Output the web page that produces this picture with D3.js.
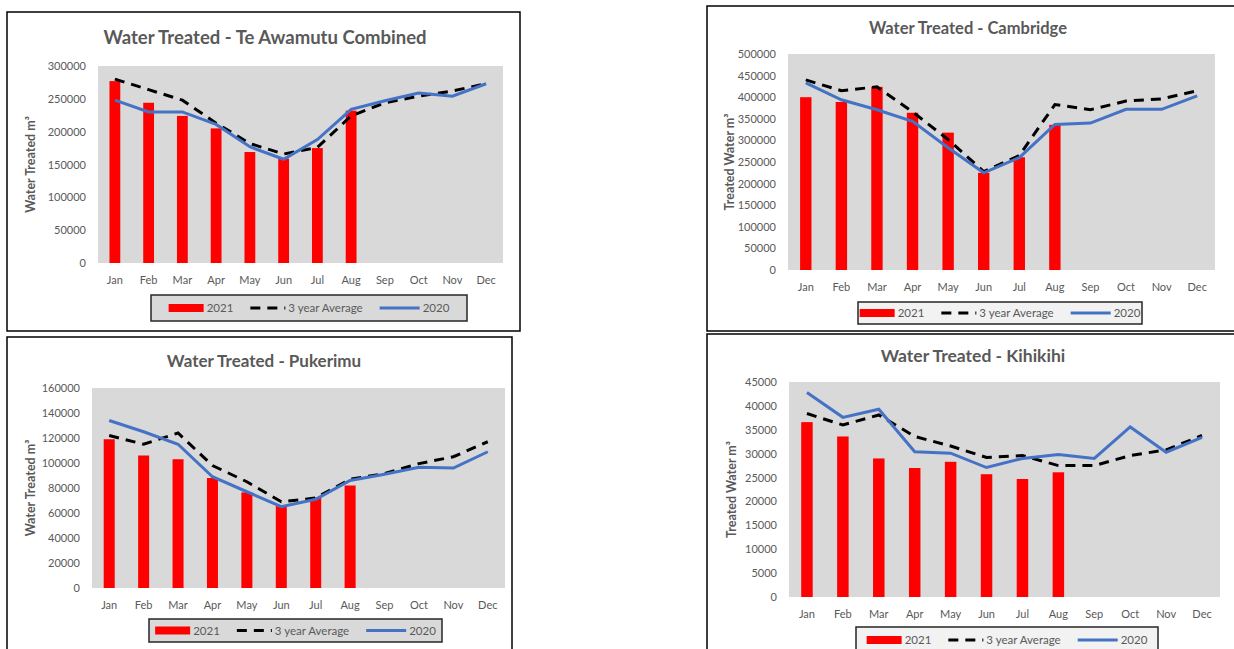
<!DOCTYPE html>
<html>
<head>
<meta charset="utf-8">
<script src="https://cdn.jsdelivr.net/npm/d3@7"></script>
<style>
  body { margin: 0; background: #fff; }
  text { font-family: Lato, "Open Sans", sans-serif; fill: #595959; }
  .title { font-weight: bold; }
  .axisTitle { font-weight: bold; }
</style>
</head>
<body>
<div id="chart"></div>
<script>
var months = ["Jan","Feb","Mar","Apr","May","Jun","Jul","Aug","Sep","Oct","Nov","Dec"];
var seriesNames = ["2021", "3 year Average", "2020"];

// Te Awamutu Combined
var teAwamutu2021 = [277000, 244000, 224000, 205000, 169000, 159000, 175000, 232000];
var teAwamutuAvg = [280000, 264000, 248000, 213000, 182000, 166000, 176000, 224000, 244000, 254000, 262000, 273000];
var teAwamutu2020 = [248000, 230000, 230000, 211000, 177000, 158000, 188000, 234000, 247000, 259000, 254000, 273000];
var teAwamutuTicks = [0, 50000, 100000, 150000, 200000, 250000, 300000];

// Cambridge
var cambridge2021 = [400000, 389000, 424000, 364000, 318000, 225000, 261000, 336000];
var cambridgeAvg = [440000, 415000, 424000, 366000, 302000, 228000, 265000, 383000, 371000, 391000, 396000, 415000];
var cambridge2020 = [433000, 394000, 371000, 344000, 283000, 225000, 260000, 337000, 340000, 372000, 372000, 403000];
var cambridgeTicks = [0, 50000, 100000, 150000, 200000, 250000, 300000, 350000, 400000, 450000, 500000];

// Pukerimu
var pukerimu2021 = [119000, 106000, 103000, 88000, 76500, 65500, 72500, 82000];
var pukerimuAvg = [122000, 115000, 124000, 98000, 85000, 69000, 72000, 87000, 91500, 99500, 105000, 117000];
var pukerimu2020 = [134000, 125000, 115000, 89000, 77000, 65000, 71000, 86000, 91000, 96500, 96000, 109000];
var pukerimuTicks = [0, 20000, 40000, 60000, 80000, 100000, 120000, 140000, 160000];

// Kihikihi
var kihikihi2021 = [36600, 33600, 29000, 27000, 28300, 25700, 24700, 26100];
var kihikihiAvg = [38400, 36000, 38100, 33600, 31600, 29200, 29600, 27500, 27500, 29600, 30800, 33800];
var kihikihi2020 = [42800, 37600, 39300, 30400, 30100, 27100, 29000, 29800, 29000, 35600, 30300, 33400];
var kihikihiTicks = [0, 5000, 10000, 15000, 20000, 25000, 30000, 35000, 40000, 45000];

var width = 1234, height = 649;
var svg = d3.select("#chart").append("svg")
  .attr("width", width)
  .attr("height", height);

var panels = [
  { title: "Water Treated - Te Awamutu Combined", yTitle: "Water Treated m³",
    bars: teAwamutu2021, avg: teAwamutuAvg, prev: teAwamutu2020, ticks: teAwamutuTicks,
    box: {x: 7, y: 12, w: 513, h: 319}, plot: {x0: 98, x1: 503, y0: 66, y1: 263},
    titlePos: {x: 265, y: 44, size: 18.5}, yTitleX: 35,
    legend: {x: 151, y: 295, w: 316, h: 26, fill: "#d9d9d9"} },
  { title: "Water Treated - Cambridge", yTitle: "Treated Water m³",
    bars: cambridge2021, avg: cambridgeAvg, prev: cambridge2020, ticks: cambridgeTicks,
    box: {x: 707, y: 6, w: 600, h: 325}, plot: {x0: 788, x1: 1215, y0: 54, y1: 270},
    titlePos: {x: 968, y: 34, size: 16.5}, yTitleX: 734,
    legend: {x: 858, y: 302, w: 284, h: 22, fill: "#f2f2f2"} },
  { title: "Water Treated - Pukerimu", yTitle: "Water Treated m³",
    bars: pukerimu2021, avg: pukerimuAvg, prev: pukerimu2020, ticks: pukerimuTicks,
    box: {x: 7, y: 337, w: 505, h: 400}, plot: {x0: 92, x1: 505, y0: 388, y1: 588},
    titlePos: {x: 264, y: 367, size: 17}, yTitleX: 35,
    legend: {x: 149, y: 619, w: 293, h: 23, fill: "#d9d9d9"} },
  { title: "Water Treated - Kihikihi", yTitle: "Treated Water m³",
    bars: kihikihi2021, avg: kihikihiAvg, prev: kihikihi2020, ticks: kihikihiTicks,
    box: {x: 707, y: 334, w: 600, h: 400}, plot: {x0: 789, x1: 1220, y0: 382, y1: 597},
    titlePos: {x: 973, y: 362, size: 17.5}, yTitleX: 736,
    legend: {x: 856, y: 627, w: 302, h: 26, fill: "#f2f2f2"} }
];

panels.forEach(drawPanel);

function drawPanel(p) {
  var g = svg.append("g");

  g.append("rect")
    .attr("x", p.box.x).attr("y", p.box.y)
    .attr("width", p.box.w).attr("height", p.box.h)
    .attr("fill", "#fff")
    .attr("stroke", "#000")
    .attr("stroke-width", 1.5);

  g.append("rect")
    .attr("x", p.plot.x0).attr("y", p.plot.y0)
    .attr("width", p.plot.x1 - p.plot.x0).attr("height", p.plot.y1 - p.plot.y0)
    .attr("fill", "#d9d9d9");

  var xScale = d3.scaleBand()
    .domain(months)
    .range([p.plot.x0, p.plot.x1]);

  var yScale = d3.scaleLinear()
    .domain([0, d3.max(p.ticks)])
    .range([p.plot.y1, p.plot.y0]);

  var yAxis = g.append("g")
    .attr("transform", `translate(${p.plot.x0 - 9},0)`)
    .call(d3.axisLeft(yScale).tickValues(p.ticks).tickSize(0).tickFormat(d3.format("d")));
  yAxis.select(".domain").remove();
  yAxis.selectAll("text").attr("fill", "#595959")
    .style("font-family", "Lato, sans-serif").style("font-size", "11px");

  var xAxis = g.append("g")
    .attr("transform", `translate(0,${p.plot.y1 + 10})`)
    .call(d3.axisBottom(xScale).tickSize(0));
  xAxis.select(".domain").remove();
  xAxis.selectAll("text").attr("fill", "#595959")
    .style("font-family", "Lato, sans-serif").style("font-size", "11px");

  g.append("text")
    .attr("class", "title")
    .attr("x", p.titlePos.x).attr("y", p.titlePos.y)
    .attr("text-anchor", "middle")
    .style("font-size", p.titlePos.size + "px")
    .text(p.title);

  g.append("text")
    .attr("class", "axisTitle")
    .attr("transform", "rotate(-90)")
    .attr("x", -(p.plot.y0 + p.plot.y1) / 2)
    .attr("y", p.yTitleX)
    .attr("text-anchor", "middle")
    .style("font-size", "12.5px")
    .text(p.yTitle);

  var barW = xScale.bandwidth() * 0.32;
  g.selectAll(".bar")
    .data(p.bars)
    .enter()
    .append("rect")
      .attr("class", "bar")
      .attr("x", function(d, i) { return xScale(months[i]) + (xScale.bandwidth() - barW) / 2; })
      .attr("y", function(d) { return yScale(d); })
      .attr("width", barW)
      .attr("height", function(d) { return p.plot.y1 - yScale(d); })
      .attr("fill", "#ff0000");

  var line = d3.line()
    .x(function(d, i) { return xScale(months[i]) + xScale.bandwidth() / 2; })
    .y(function(d) { return yScale(d); });

  g.append("path")
    .datum(p.avg)
    .attr("d", line)
    .attr("fill", "none")
    .attr("stroke", "#000")
    .attr("stroke-width", 3)
    .attr("stroke-dasharray", "10,7");

  g.append("path")
    .datum(p.prev)
    .attr("d", line)
    .attr("fill", "none")
    .attr("stroke", "#4472c4")
    .attr("stroke-width", 3);

  // legend
  var L = p.legend;
  g.append("rect")
    .attr("x", L.x).attr("y", L.y)
    .attr("width", L.w).attr("height", L.h)
    .attr("fill", L.fill)
    .attr("stroke", "#262626")
    .attr("stroke-width", 1.5);

  var items = g.append("g");
  var cx = 0, cy = L.y + L.h / 2;
  seriesNames.forEach(function(name, i) {
    var sw = i == 2 ? 40 : 35;
    if (i == 0) {
      items.append("rect").attr("x", cx).attr("y", cy - 4).attr("width", sw).attr("height", 8).attr("fill", "#ff0000");
    } else {
      items.append("line").attr("x1", cx).attr("x2", cx + sw).attr("y1", cy).attr("y2", cy)
        .attr("stroke", i == 1 ? "#000" : "#4472c4").attr("stroke-width", 3)
        .attr("stroke-dasharray", i == 1 ? "10,7" : null);
    }
    var t = items.append("text")
      .attr("x", cx + sw + 3).attr("y", cy + 4)
      .style("font-size", "11.5px")
      .text(name);
    cx += sw + 3 + t.node().getComputedTextLength() + 17;
  });
  var total = cx - 17;
  items.attr("transform", `translate(${L.x + (L.w - total) / 2},0)`);
}
</script>
</body>
</html>
